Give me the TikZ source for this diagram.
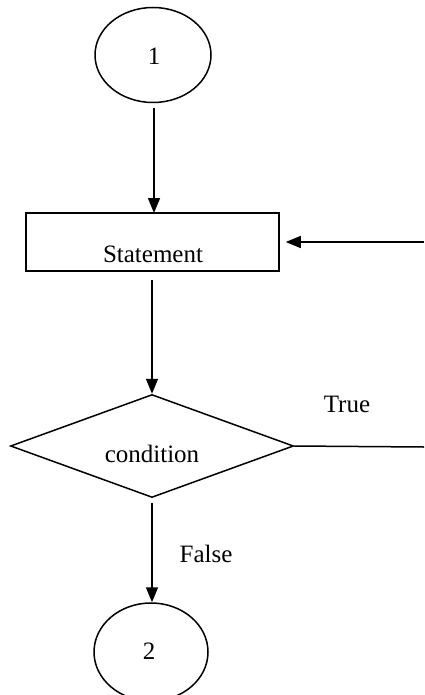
\documentclass[tikz,border=0pt]{standalone}
\usepackage{fontspec}
\setmainfont{Liberation Serif}
\usetikzlibrary{shapes.geometric,arrows.meta}
\begin{document}
\begin{tikzpicture}[x=1pt,y=-1pt,
  shapeline/.style={draw=black, line width=1.5pt, inner sep=0pt},
  lbl/.style={inner sep=0pt, anchor=base, font=\fontsize{25}{30}\selectfont},
  conn/.style={line width=1.5pt, -{Triangle[length=15pt,width=12pt]}},
  plain/.style={line width=1.5pt}]
\useasboundingbox (0,0) rectangle (424,695);
\node[shapeline, ellipse, minimum width=116pt, minimum height=95pt] (c1) at (153,55) {};
\node[shapeline, rectangle, minimum width=253pt, minimum height=58pt] (st) at (152.5,242) {};
\node[shapeline, diamond, minimum width=283pt, minimum height=103pt] (cond) at (152,446) {};
\node[shapeline, ellipse, minimum width=114pt, minimum height=98pt] (c2) at (151,652) {};
\node[lbl] (t1) at (154,65) {1};
\node[lbl] (tst) at (153,262) {Statement};
\node[lbl] (tcond) at (152,462) {condition};
\node[lbl] (t2) at (149,659) {2};
\node[lbl] (ttrue) at (347,412) {True};
\node[lbl] (tfalse) at (206,562) {False};
\coordinate (rtop) at (424,242);
\coordinate (rbot) at (424,447);
\draw[conn, shorten <=6pt] (154,102) -- (154,213);
\draw[conn, shorten <=8pt] (cond.north |- st.south) -- (cond.north);
\draw[conn, shorten <=5pt] (cond.south) -- (cond.south |- c2.north);
\draw[plain] (cond.east) -- (rbot);
\draw[conn, shorten >=6pt] (rtop) -- (st.east);
\end{tikzpicture}
\end{document}
